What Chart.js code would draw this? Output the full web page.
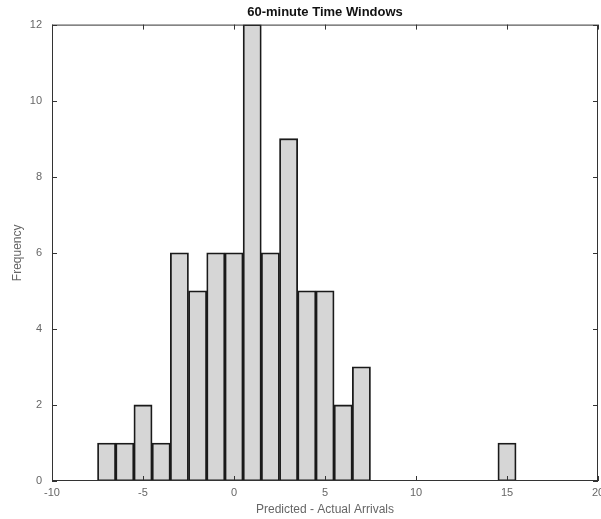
<!DOCTYPE html>
<html>
<head>
<meta charset="utf-8">
<script src="https://cdn.jsdelivr.net/npm/chart.js@4/dist/chart.umd.min.js"></script>
<style>
  html, body { margin: 0; padding: 0; background: #fff; }
  #wrap { width: 601px; height: 519px; position: relative; }
</style>
</head>
<body>
<div id="wrap"><canvas id="hist"></canvas></div>
<script>
// bin centres (Predicted - Actual) and counts
const binCenters = [-7, -6, -5, -4, -3, -2, -1, 0, 1, 2, 3, 4, 5, 6, 7, 15];
const counts     = [ 1,  1,  2,  1,  6,  5,  6, 6, 12, 6, 9, 5, 5, 2, 3, 1];
const xTicks = [-10, -5, 0, 5, 10, 15, 20];
const yTicks = [0, 2, 4, 6, 8, 10, 12];

const ink = '#333';
const labelGrey = '#666';

// frame + inward ticks on all four sides, matlab style
const frameTicks = {
  id: 'frameTicks',
  afterDatasetsDraw(chart) {
    const { ctx, chartArea: a, scales: { x, y } } = chart;
    const len = 5;
    ctx.save();
    ctx.strokeStyle = ink;
    ctx.lineWidth = 1;
    ctx.strokeRect(a.left + 0.5, a.top + 0.5, a.right - a.left - 1, a.bottom - a.top - 1);
    ctx.beginPath();
    xTicks.forEach(v => {
      const px = Math.round(x.getPixelForValue(v)) + 0.5;
      ctx.moveTo(px, a.bottom); ctx.lineTo(px, a.bottom - len);
      ctx.moveTo(px, a.top);    ctx.lineTo(px, a.top + len);
    });
    yTicks.forEach(v => {
      const py = Math.round(y.getPixelForValue(v)) + 0.5;
      ctx.moveTo(a.left, py);  ctx.lineTo(a.left + len, py);
      ctx.moveTo(a.right, py); ctx.lineTo(a.right - len, py);
    });
    ctx.stroke();
    ctx.restore();
  }
};

new Chart(document.getElementById('hist'), {
  type: 'bar',
  data: {
    datasets: [{
      data: binCenters.map((c, i) => ({ x: c, y: counts[i] })),
      backgroundColor: '#d6d6d6',
      borderColor: '#1a1a1a',
      borderWidth: 1.8,
      borderSkipped: false,
      barPercentage: 1,
      categoryPercentage: 1
    }]
  },
  plugins: [frameTicks],
  options: {
    responsive: true,
    maintainAspectRatio: false,
    animation: false,
    layout: { padding: { left: 0, right: 3, top: 0, bottom: 0 } },
    plugins: {
      legend: { display: false },
      tooltip: { enabled: false },
      title: {
        display: true,
        fullSize: false,
        text: '60-minute Time Windows',
        color: '#111',
        font: { family: 'Liberation Sans, Arial, sans-serif', size: 13, weight: 'bold' },
        padding: { top: 5, bottom: 4 }
      }
    },
    scales: {
      x: {
        type: 'linear',
        offset: false,
        min: -10,
        max: 20,
        afterBuildTicks: s => { s.ticks = xTicks.map(v => ({ value: v })); },
        afterFit: s => { s.height = 38; s.paddingLeft = 0; s.paddingRight = 0; },
        grid: { display: false, drawTicks: false, tickLength: 0 },
        border: { display: false },
        ticks: {
          color: labelGrey,
          padding: 5,
          maxRotation: 0,
          font: { family: 'Liberation Sans, Arial, sans-serif', size: 11 }
        },
        title: {
          display: true,
          text: 'Predicted - Actual Arrivals',
          color: labelGrey,
          padding: { top: 0, bottom: 2 },
          font: { family: 'Liberation Sans, Arial, sans-serif', size: 12 }
        }
      },
      y: {
        min: 0,
        max: 12,
        afterBuildTicks: s => { s.ticks = yTicks.map(v => ({ value: v })); },
        afterFit: s => { s.width = 52; s.paddingTop = 0; s.paddingBottom = 0; },
        grid: { display: false, drawTicks: false, tickLength: 0 },
        border: { display: false },
        ticks: {
          color: labelGrey,
          padding: 10,
          font: { family: 'Liberation Sans, Arial, sans-serif', size: 11 }
        },
        title: {
          display: true,
          text: 'Frequency',
          color: labelGrey,
          padding: { top: 10, bottom: 0 },
          font: { family: 'Liberation Sans, Arial, sans-serif', size: 12 }
        }
      }
    }
  }
});
</script>
</body>
</html>
